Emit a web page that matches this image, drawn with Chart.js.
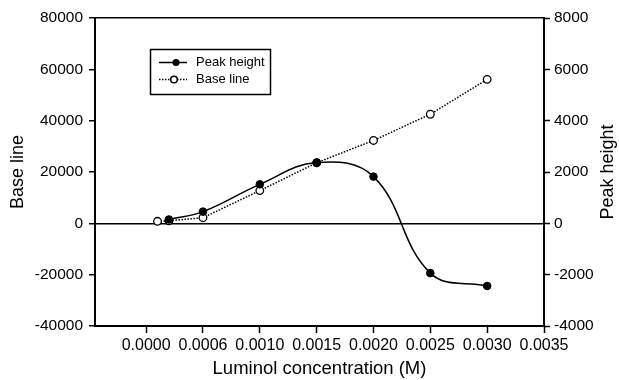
<!DOCTYPE html>
<html>
<head>
<meta charset="utf-8">
<script src="https://cdn.jsdelivr.net/npm/chart.js@4.4.1/dist/chart.umd.min.js"></script>
<style>
  html, body { margin: 0; padding: 0; background: #fff; }
  #wrap { width: 619px; height: 380px; position: relative; }
</style>
</head>
<body>
<div id="wrap"><canvas id="lumChart"></canvas></div>
<script>
const baseConc = [0.0001, 0.0002, 0.0005, 0.0010, 0.0015, 0.0020, 0.0025, 0.0030];
const baseLine = [800, 1000, 2200, 12750, 23600, 32300, 42500, 56100];
const peakConc = [0.0002, 0.0005, 0.0010, 0.0015, 0.0020, 0.0025, 0.0030];
const peakHeight = [150, 456, 1520, 2366, 1820, -1940, -2440];

const xTickValues = [0, 0.0005, 0.0010, 0.0015, 0.0020, 0.0025, 0.0030, 0.0035];
const xTickLabels = ['0.0000', '0.0006', '0.0010', '0.0015', '0.0020', '0.0025', '0.0030', '0.0035'];

const FONT = '"Liberation Sans", Arial, Helvetica, sans-serif';

function pairs(xs, ys) {
  return xs.map(function(x, i) { return { x: x, y: ys[i] }; });
}

// box legend + right title drawn the way the original plot does
const extrasPlugin = {
  id: 'extras',
  afterDraw: function(chart) {
    const c = chart.ctx;
    c.save();
    c.strokeStyle = '#000';
    c.fillStyle = '#000';
    c.lineWidth = 1.5;
    c.strokeRect(150.5, 49.5, 120, 45);

    // solid line sample
    c.beginPath();
    c.moveTo(159, 62.5);
    c.lineTo(187, 62.5);
    c.stroke();
    c.beginPath();
    c.arc(176, 62.5, 3.5, 0, Math.PI * 2);
    c.fill();

    // dotted line sample
    c.setLineDash([1.5, 1.5]);
    c.beginPath();
    c.moveTo(159, 79.5);
    c.lineTo(187, 79.5);
    c.stroke();
    c.setLineDash([]);
    c.beginPath();
    c.arc(174, 79.5, 3.3, 0, Math.PI * 2);
    c.fillStyle = '#fff';
    c.fill();
    c.stroke();

    c.fillStyle = '#000';
    c.font = '13px ' + FONT;
    c.textBaseline = 'middle';
    c.textAlign = 'left';
    c.fillText('Peak height', 196, 62.5);
    c.fillText('Base line', 196, 79.5);

    // right axis title, reading bottom to top
    c.translate(608, chart.chartArea.top + (chart.chartArea.bottom - chart.chartArea.top) / 2);
    c.rotate(-Math.PI / 2);
    c.textAlign = 'center';
    c.font = '18px ' + FONT;
    c.fillText('Peak height', 0, 0);
    c.restore();
  }
};

const ctx = document.getElementById('lumChart').getContext('2d');

new Chart(ctx, {
  type: 'line',
  data: {
    datasets: [
      {
        label: 'Peak height',
        data: pairs(peakConc, peakHeight),
        yAxisID: 'y2',
        borderColor: '#000',
        backgroundColor: '#000',
        borderWidth: 1.5,
        tension: 0.4,
        pointRadius: 3.8,
        pointBorderWidth: 1,
        pointBackgroundColor: '#000',
        pointBorderColor: '#000'
      },
      {
        label: 'Base line',
        data: pairs(baseConc, baseLine),
        yAxisID: 'y',
        borderColor: '#000',
        borderWidth: 1.5,
        borderDash: [1.5, 1.5],
        tension: 0,
        pointRadius: 3.8,
        pointBorderWidth: 1.3,
        pointBackgroundColor: '#fff',
        pointBorderColor: '#000'
      }
    ]
  },
  options: {
    responsive: true,
    maintainAspectRatio: false,
    animation: false,
    layout: { padding: { top: 18, left: 0, right: 0, bottom: 0 } },
    plugins: {
      legend: { display: false },
      tooltip: { enabled: false }
    },
    scales: {
      x: {
        type: 'linear',
        min: -0.00045,
        max: 0.0035,
        afterBuildTicks: function(scale) {
          scale.ticks = xTickValues.map(function(v) { return { value: v }; });
        },
        afterFit: function(scale) { scale.height = 54; },
        border: { color: '#000', width: 2 },
        grid: { drawOnChartArea: false, drawTicks: true, tickLength: 7, tickColor: '#000', tickWidth: 1.5 },
        ticks: {
          color: '#000',
          font: { family: FONT, size: 16 },
          padding: 3,
          maxRotation: 0,
          autoSkip: false,
          callback: function(value, index) { return xTickLabels[index]; }
        },
        title: {
          display: true,
          text: 'Luminol concentration (M)',
          color: '#000',
          font: { family: FONT, size: 18.5 },
          padding: { top: 0, bottom: 0 }
        }
      },
      y: {
        position: 'left',
        min: -40000,
        max: 80000,
        afterFit: function(scale) { scale.width = 95; },
        border: { color: '#000', width: 2 },
        grid: {
          color: function(c) {
            return (c.tick && (c.tick.value === 0 || c.tick.value === 80000)) ? '#000' : 'rgba(0,0,0,0)';
          },
          lineWidth: 1.5,
          drawTicks: true,
          tickLength: 6,
          tickColor: '#000',
          tickWidth: 1.5
        },
        ticks: {
          stepSize: 20000,
          color: '#000',
          font: { family: FONT, size: 15.5 },
          padding: 6,
          callback: function(value) { return String(value); }
        },
        title: {
          display: true,
          text: 'Base line',
          color: '#000',
          font: { family: FONT, size: 18 },
          padding: { top: 7, bottom: 0 }
        }
      },
      y2: {
        position: 'right',
        min: -4000,
        max: 8000,
        afterFit: function(scale) { scale.width = 75; },
        border: { color: '#000', width: 2 },
        grid: { drawOnChartArea: false, drawTicks: true, tickLength: 6, tickColor: '#000', tickWidth: 1.5 },
        ticks: {
          stepSize: 2000,
          color: '#000',
          font: { family: FONT, size: 15.5 },
          padding: 4,
          callback: function(value) { return String(value); }
        }
      }
    }
  },
  plugins: [extrasPlugin]
});
</script>
</body>
</html>
